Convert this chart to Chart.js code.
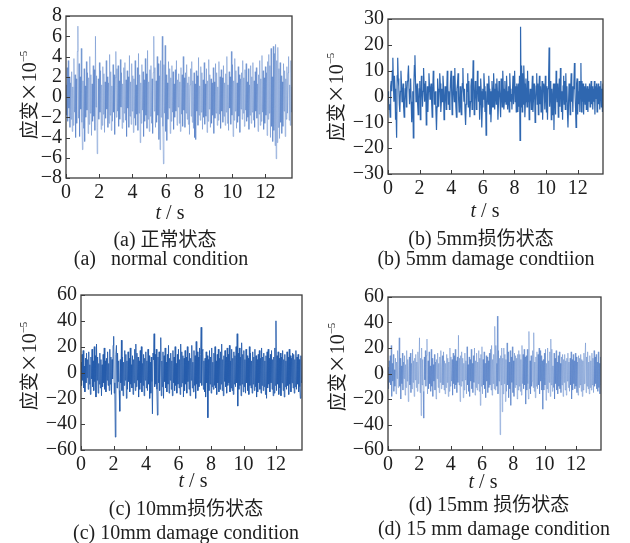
<!DOCTYPE html>
<html>
<head>
<meta charset="utf-8">
<script src="https://cdn.jsdelivr.net/npm/chart.js@4"></script>
<style>
  html, body { margin: 0; padding: 0; background: #ffffff; }
  #root { position: relative; width: 630px; height: 543px; overflow: hidden; background: #ffffff; }
  canvas { position: absolute; }
  .txt { position: absolute; white-space: pre; color: #1e1e1e;
         font-family: "Liberation Serif", "Noto Sans CJK SC", serif; font-size: 20px;
         transform: translate(-50%, -50%); line-height: 1; }
  .ytitle { transform: translate(-50%, -50%) rotate(-90deg); }
  .cjk { font-family: "Noto Sans CJK SC", sans-serif; font-size: 19px; }
  sup { font-size: 11px; vertical-align: 9px; }
</style>
</head>
<body>
<div id="root">
  <canvas id="ca"></canvas>
  <canvas id="cb"></canvas>
  <canvas id="cc"></canvas>
  <canvas id="cd"></canvas>

  <div class="txt ytitle" style="left:28px; top:95px;"><span class="cjk">应变×</span>10<sup>−5</sup></div>
  <div class="txt ytitle" style="left:335px; top:97px;"><span class="cjk">应变×</span>10<sup>−5</sup></div>
  <div class="txt ytitle" style="left:28px; top:366px;"><span class="cjk">应变×</span>10<sup>−5</sup></div>
  <div class="txt ytitle" style="left:336px; top:367px;"><span class="cjk">应变×</span>10<sup>−5</sup></div>

  <div class="txt" style="left:170px; top:212px;"><i>t</i> / s</div>
  <div class="txt" style="left:485px; top:210px;"><i>t</i> / s</div>
  <div class="txt" style="left:193px; top:480px;"><i>t</i> / s</div>
  <div class="txt" style="left:483px; top:481px;"><i>t</i> / s</div>

  <div class="txt" style="left:165px; top:238px;">(a) <span class="cjk">正常状态</span></div>
  <div class="txt" style="left:161px; top:258px;">(a)   normal condition</div>
  <div class="txt" style="left:481px; top:237px;">(b) 5mm<span class="cjk">损伤状态</span></div>
  <div class="txt" style="left:486px; top:258px;">(b) 5mm damage condtiion</div>
  <div class="txt" style="left:186px; top:507px;">(c) 10mm<span class="cjk">损伤状态</span></div>
  <div class="txt" style="left:186px; top:532px;">(c) 10mm damage condition</div>
  <div class="txt" style="left:489px; top:503px;">(d) 15mm <span class="cjk">损伤状态</span></div>
  <div class="txt" style="left:494px; top:528px;">(d) 15 mm damage condition</div>
</div>

<script>
// ---------------- data ----------------
const tEnd = 13.6;                       // record length, s
const xTicks = [0, 2, 4, 6, 8, 10, 12];  // time tick labels
const yTicksA = [-8, -6, -4, -2, 0, 2, 4, 6, 8];
const yTicksB = [-30, -20, -10, 0, 10, 20, 30];
const yTicksCD = [-60, -40, -20, 0, 20, 40, 60];

// (a) normal condition, strain x1e-5
const strainA = [
  1.2,-1.8,2.9,-2.4,3.6,-1.1,2.0,-3.0,1.4,-2.2,
  2.5,-3.4,1.0,-2.8,3.8,-1.5,2.2,-4.0,1.8,-2.6,
  4.5,7.0,-2.1,3.3,-3.9,2.0,-1.2,4.8,-2.5,-5.2,
  1.6,-3.1,2.8,-4.4,1.1,-2.0,3.5,-1.3,2.4,-3.6,
  1.9,-2.7,4.0,-1.6,2.2,-3.8,1.3,-2.4,3.1,-1.9,
  2.7,-3.3,6.0,-1.0,2.1,-5.6,-3.0,1.8,-2.2,3.4,
  -1.5,2.6,-3.2,1.2,-2.8,3.0,-1.7,2.3,-3.5,1.5,
  -2.1,3.6,-1.2,2.0,-3.0,1.4,-2.6,4.2,-1.8,2.5,
  -3.3,1.1,-2.4,3.2,-1.5,2.2,-3.7,1.9,4.5,-2.0,
  2.8,-1.4,3.1,-2.9,1.6,-2.2,3.7,-1.0,2.4,-3.1,
  1.3,-2.5,2.9,-1.6,3.4,-2.3,1.7,-3.9,2.6,-1.1,
  2.0,-3.0,4.1,-1.9,1.5,-2.7,3.3,-1.4,2.1,-3.5,
  1.8,-2.1,3.6,-2.8,1.2,-1.7,2.9,-3.3,4.3,-1.6,
  2.2,-4.5,1.4,-2.6,3.2,-1.3,2.5,-3.9,1.7,-2.4,
  3.8,-1.8,2.3,-3.1,4.6,-2.2,1.5,-3.4,2.7,-1.9,
  3.1,-2.6,1.8,-3.6,2.4,6.0,-1.4,2.9,-3.0,1.6,
  -2.5,4.0,-1.8,3.3,-4.2,2.1,-5.2,3.6,-2.0,1.7,
  6.0,-2.9,-6.6,3.2,-1.6,5.1,-3.4,2.2,-4.3,1.4,
  -2.2,3.5,-1.1,2.8,-3.6,1.9,-2.4,3.1,-1.5,2.5,
  -3.2,1.3,-2.0,2.7,-1.4,3.6,-2.8,1.7,-1.0,2.3,
  -2.6,1.5,-3.4,2.9,-1.7,2.2,-2.9,4.0,-1.3,1.9,
  -3.0,2.4,-1.6,3.2,-2.2,1.4,-2.7,2.0,-3.7,1.2,
  2.8,-1.9,3.5,-2.5,1.6,-3.1,2.4,-4.0,1.3,-4.2,
  2.6,-1.4,2.1,-2.8,3.9,-1.8,1.1,-2.3,3.0,-1.5,
  2.4,-3.2,1.7,-2.0,3.4,-2.7,1.3,-1.9,2.8,-3.5,
  1.6,-2.4,3.7,-1.2,2.2,-3.0,1.8,-2.6,1.4,-1.8,
  2.9,-3.6,1.5,-2.1,3.3,-1.6,2.4,-2.8,1.0,-2.3,
  3.5,-1.7,2.0,-3.1,2.7,-1.4,1.9,-2.5,3.1,-1.9,
  1.4,-2.8,2.3,-1.5,4.0,-2.6,1.2,-3.3,2.5,-1.1,
  2.0,-2.7,4.5,-1.8,3.2,-3.9,1.6,-2.3,3.8,-1.4,
  2.6,-3.1,1.4,-2.5,3.0,-1.9,2.2,-3.5,1.8,-1.2,
  2.4,-2.2,3.6,-1.6,1.9,-2.9,2.7,-1.3,3.3,-2.4,
  1.5,-2.0,2.8,-3.2,1.2,-1.8,3.1,-2.6,2.0,-1.5,
  3.4,-2.3,1.6,-3.0,2.5,-1.4,2.9,-2.1,1.3,-3.4,
  2.2,-1.7,3.6,-2.8,1.8,-2.4,4.1,-1.5,2.6,-3.2,
  1.9,-2.6,3.0,-1.8,2.4,-3.8,3.5,-2.2,4.2,-1.6,
  3.1,-4.0,4.8,-2.9,2.0,-4.4,5.0,-3.3,4.3,-4.8,
  5.2,-6.1,3.6,-4.5,4.9,-3.0,2.8,-4.1,3.4,-2.5,
  2.1,-3.6,1.5,-2.9,3.3,-1.4,2.6,-3.9,1.8,-2.2,
  3.0,-1.6,2.4,4.0,-2.3,1.2,-2.8,3.6,-1.5,1.0
];

// (b) 5 mm damage
const strainB = [
  2,-1,-5,-3,-8,4,6,2,10,15,
  5,-2,8,3,-9,-6,-16,8,15,7,
  4,-3,-6,2,10,5,-2,1,5,-4,
  -8,-2,3,6,-4,1,6,8,12,3,
  -3,2,7,-2,-10,-5,2,-16,4,12,
  16,6,-2,3,5,-3,-7,-1,3,6,
  -9,-2,8,4,-4,2,11,5,-2,3,
  6,-11,-3,4,-6,2,9,4,-1,3,
  5,-2,-8,1,10,6,-3,0,2,-6,
  -13,-4,7,3,-4,2,9,5,-6,-2,
  3,-2,8,4,-9,-3,4,1,-5,2,
  10,4,-3,2,-5,-1,6,10,3,-7,
  -2,8,4,-2,11,2,-4,-8,3,5,
  9,-1,-6,-2,4,-3,-7,1,5,11,
  2,-2,3,-6,-11,-3,5,2,9,-4,
  6,-3,-8,-2,4,7,-5,2,14,6,
  -7,-2,6,3,-5,-3,10,5,-2,4,
  -9,-3,7,2,-12,-4,3,-1,9,4,
  -6,2,-15,-8,5,1,-3,8,3,-7,
  2,-10,-4,6,2,-4,9,3,-5,1,
  5,-3,7,2,-9,-3,6,3,-2,-8,
  7,2,-4,10,3,-5,-2,6,1,-3,
  8,2,-5,-1,4,-6,9,3,-2,1,
  -5,2,8,-3,6,10,-2,4,-6,5,
  3,-6,5,-4,8,-17,27,-4,12,-6,
  9,-3,12,5,-8,-2,7,2,-4,10,
  -2,6,-9,-3,3,1,-5,2,8,-6,
  -1,5,3,-10,-2,4,9,-3,5,-7,
  2,8,-3,4,-6,0,6,-9,3,5,
  3,-5,8,2,-6,4,-9,3,6,19,
  -4,2,6,-9,3,-7,-2,5,-13,3,
  5,-7,10,2,-2,5,-8,1,7,-4,
  11,3,-6,2,-9,4,8,-3,6,-5,
  9,-2,4,-6,-12,-3,5,2,-7,3,
  9,-2,4,-6,3,5,13,2,-4,-12,
  5,7,-7,2,-3,6,-6,4,13,-6,
  6,-2,5,-7,1,4,-3,5,-5,2,
  4,-6,3,-2,5,-4,2,6,-3,4,
  -5,3,-2,6,-7,4,-1,5,-6,2,
  5,-3,4,-5,2,6,-4,3,-6,5
];

// (c) 10 mm damage
const strainC = [
  8,-10,14,-6,17,-12,5,-15,11,-8,
  15,-4,10,-13,16,-9,6,-17,12,-5,
  18,-11,9,-14,20,-7,13,-19,22,-6,
  12,-16,7,-9,15,-12,10,-18,6,-11,
  14,-8,19,-13,9,-15,11,-6,16,-10,
  7,-14,18,-9,12,-17,10,-5,21,28,
  -16,-8,-50,14,21,-12,15,-7,9,-14,
  -30,10,-8,25,-14,12,-18,8,-10,17,
  -6,14,-20,9,-13,16,-7,11,-15,19,
  -9,6,-12,13,-17,10,-8,18,-14,22,
  -11,15,-6,12,-19,9,-13,17,-8,20,
  -15,7,-10,14,-18,11,-6,16,-12,9,
  -14,18,-9,13,-20,8,-16,12,-7,-32,
  15,10,30,-11,14,-9,18,-13,-33,12,
  -8,16,-14,10,27,-18,9,-11,16,-20,
  13,-7,19,-12,8,-15,14,-9,21,-16,
  11,-6,15,-13,9,-18,17,-8,12,-14,
  20,-10,7,-16,14,-9,18,-12,10,-17,
  22,-11,16,-8,13,-19,11,-14,17,-9,
  12,-16,20,-7,9,-13,15,-18,11,-6,
  21,-12,8,-15,17,-10,13,-20,24,-9,
  16,-14,12,-11,19,-8,14,35,-10,17,
  18,-13,9,-15,11,-19,16,-8,13,-35,
  10,-14,17,-9,12,-16,19,-11,8,-13,
  15,-10,20,-12,9,-17,14,-8,18,-15,
  11,-13,16,-9,22,-14,10,-18,13,-7,
  17,-11,12,-16,19,-10,14,-8,21,-15,
  9,-12,18,-14,11,-17,16,-9,13,-11,
  20,-8,30,-26,15,-13,19,-10,12,-18,
  23,-9,14,-15,17,-11,10,-16,18,-8,
  13,-14,11,-17,20,-10,15,-12,9,-16,
  16,-9,12,-14,18,-11,13,-19,10,-15,
  14,-8,17,-13,11,-16,19,-10,12,-14,
  15,-11,9,-17,13,-20,16,-12,18,-9,
  11,-15,14,-8,17,-13,10,-18,12,-16,
  19,-10,40,-14,13,-9,16,-17,11,-12,
  15,-18,12,-8,17,-14,10,-19,14,-11,
  9,-13,16,-10,12,-17,18,-9,13,-15,
  11,-8,15,-12,14,-16,10,-11,17,-13,
  12,-9,14,-15,10,-11,-20,13,-8,-6
];

// (d) 15 mm damage
const strainD = [
  5,-12,10,-7,14,-9,22,-18,8,-6,
  15,-14,3,-10,12,-16,9,-4,18,-11,
  6,28,-10,12,-20,6,-8,16,-13,9,
  -4,14,-17,7,-11,18,-6,11,-22,4,
  13,-9,16,-15,8,-12,19,-7,10,-18,
  12,-5,15,-11,9,-14,17,-8,6,28,
  -15,12,-33,20,-9,11,-14,-35,13,-5,
  18,-10,14,27,-16,10,-12,17,-8,6,
  -14,19,-10,12,-18,7,-6,15,-13,9,
  -20,11,-4,16,-11,8,-15,13,-7,18,
  -12,5,14,-9,17,-13,10,-16,8,-11,
  15,-7,12,-18,9,-14,20,-10,13,-6,
  11,-17,16,-8,14,-12,19,-9,10,-15,
  13,-7,30,-9,12,-22,14,-10,17,-6,
  12,-19,8,-13,16,-5,10,-16,21,-9,
  7,-14,13,-18,11,-6,19,-12,8,-15,
  14,-7,20,-17,10,-11,16,-13,9,-8,
  18,-14,12,-25,15,-10,21,-16,11,-9,
  17,-12,8,-19,14,-6,13,-15,10,-11,
  16,-9,19,-13,22,-17,11,-8,15,-12,
  37,-13,22,8,-10,45,-16,18,-6,12,
  -48,14,-9,20,-30,12,-16,20,-8,15,
  -22,11,-14,24,-9,17,-19,9,-12,18,
  -25,13,-7,21,-15,10,-18,16,-11,14,
  -9,12,-20,15,-13,18,-10,15,-14,11,
  -17,22,-8,15,-12,19,-9,13,-24,14,
  -13,19,-8,-20,33,-12,10,-16,14,-10,
  -6,18,-11,32,-14,9,-19,13,-10,17,
  -12,15,-9,20,-16,18,-6,14,-13,10,
  -28,11,-13,16,-9,19,-21,8,-12,20,
  -15,10,-7,17,-18,27,-9,19,-14,6,
  -11,16,-20,12,-8,18,-13,9,-16,14,
  -10,17,-12,8,-15,13,-9,15,-18,11,
  -7,15,-13,10,-17,12,-6,16,-11,9,
  -14,12,-9,17,-20,11,-13,15,-8,10,
  -12,16,-10,13,-15,9,-17,14,-11,12,
  -9,15,-14,11,-18,10,-13,16,-8,12,
  24,-15,13,-10,17,-12,9,-16,14,-11,
  10,-13,16,-9,12,-15,18,-10,13,-8,
  15,-12,9,-14,17,-11,8,-16,13,-9
];

// ---------------- drawing ----------------
const YW = 48, PT = 14, PR = 6, XH = 26;

const framePlugin = {
  id: 'frame',
  afterDraw(chart) {
    const { ctx, chartArea: a, scales: { x, y } } = chart;
    ctx.save();
    ctx.strokeStyle = '#3c3c3c';
    ctx.lineWidth = 1.3;
    ctx.strokeRect(a.left, a.top, a.right - a.left, a.bottom - a.top);
    ctx.lineWidth = 1;
    ctx.beginPath();
    x.ticks.forEach(t => {
      const px = Math.round(x.getPixelForValue(t.value)) + 0.5;
      ctx.moveTo(px, a.bottom); ctx.lineTo(px, a.bottom - 4);
    });
    y.ticks.forEach(t => {
      const py = Math.round(y.getPixelForValue(t.value)) + 0.5;
      ctx.moveTo(a.left, py); ctx.lineTo(a.left + 4, py);
    });
    ctx.stroke();
    ctx.restore();
  }
};

function makeChart(id, plot, values, yTicks, color, width) {
  const cv = document.getElementById(id);
  const w = plot.r - plot.l + YW + PR;
  const h = plot.b - plot.t + PT + XH;
  cv.width = w; cv.height = h;
  cv.style.left = (plot.l - YW) + 'px';
  cv.style.top = (plot.t - PT) + 'px';
  cv.style.width = w + 'px'; cv.style.height = h + 'px';
  const step = tEnd / (values.length - 1);
  const pts = values.map((v, i) => ({ x: i * step, y: v }));
  const font = { family: '"Liberation Serif", serif', size: 20 };
  new Chart(cv, {
    type: 'line',
    data: { datasets: [{ data: pts, borderColor: color, borderWidth: width,
                         pointRadius: 0, tension: 0, fill: false }] },
    options: {
      responsive: false, animation: false, devicePixelRatio: 1,
      layout: { padding: { top: PT, right: PR, left: 0, bottom: 0 } },
      plugins: { legend: { display: false }, tooltip: { enabled: false } },
      scales: {
        x: {
          type: 'linear', min: 0, max: tEnd,
          grid: { display: false, drawTicks: false }, border: { display: false },
          afterBuildTicks: s => { s.ticks = xTicks.map(v => ({ value: v })); },
          afterFit: s => { s.height = XH; },
          ticks: { font, color: '#1e1e1e', padding: 3, maxRotation: 0, autoSkip: false,
                   callback: v => String(v) }
        },
        y: {
          type: 'linear', min: yTicks[0], max: yTicks[yTicks.length - 1],
          grid: { display: false, drawTicks: false }, border: { display: false },
          afterBuildTicks: s => { s.ticks = yTicks.map(v => ({ value: v })); },
          afterFit: s => { s.width = YW; },
          ticks: { font, color: '#1e1e1e', padding: 4, autoSkip: false,
                   callback: v => String(v).replace('-', '−') }
        }
      }
    },
    plugins: [framePlugin]
  });
}

makeChart('ca', { l: 66, r: 292, t: 14, b: 178 }, strainA, yTicksA, 'rgba(75,120,195,0.42)', 1);
makeChart('cb', { l: 388, r: 603, t: 17, b: 174 }, strainB, yTicksB, '#2f67b0', 1.2);
makeChart('cc', { l: 81, r: 302, t: 293, b: 450 }, strainC, yTicksCD, 'rgba(38,92,172,0.88)', 1);
makeChart('cd', { l: 388, r: 601, t: 295, b: 450 }, strainD, yTicksCD, 'rgba(75,120,195,0.42)', 1);
</script>
</body>
</html>
